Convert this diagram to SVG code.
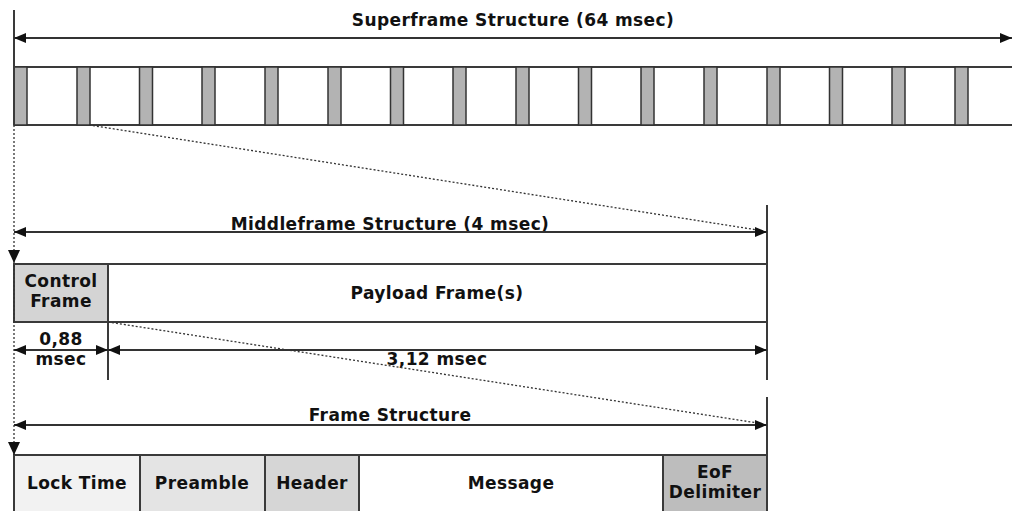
<svg xmlns="http://www.w3.org/2000/svg" width="1012" height="511" viewBox="0 0 1012 511">
<defs>
<marker id="ah" viewBox="0 0 12 10" refX="12" refY="5" markerWidth="12" markerHeight="10" markerUnits="userSpaceOnUse" orient="auto-start-reverse">
<path d="M0,0 L12,5 L0,10 Z" fill="#111"/>
</marker>
<style>
.t{font-family:"DejaVu Sans",Verdana,sans-serif;font-weight:bold;font-size:17px;letter-spacing:0.4px;fill:#111;text-anchor:middle}
.ln{stroke:#3a3a3a;stroke-width:2;fill:none}
.dim{stroke:#333;stroke-width:2;fill:none;marker-start:url(#ah);marker-end:url(#ah)}
.dot{stroke:#333;stroke-width:1.3;stroke-dasharray:2,2;fill:none}
.slot{fill:#b3b3b3;stroke:#333;stroke-width:1.5}
.cell{stroke:#3a3a3a;stroke-width:2}
</style>
</defs>
<rect width="1012" height="511" fill="#fff"/>

<g id="superframe">
<text class="t" x="513" y="26">Superframe Structure (64 msec)</text>
<line class="ln" x1="14" y1="67" x2="1012" y2="67"/>
<line class="ln" x1="14" y1="125" x2="1012" y2="125"/>
<g id="slots">
<rect class="slot" x="14" y="67" width="13" height="58"/>
<rect class="slot" x="77" y="67" width="13" height="58"/>
<rect class="slot" x="139.5" y="67" width="13" height="58"/>
<rect class="slot" x="202" y="67" width="13" height="58"/>
<rect class="slot" x="265" y="67" width="13" height="58"/>
<rect class="slot" x="328" y="67" width="13" height="58"/>
<rect class="slot" x="390.5" y="67" width="13" height="58"/>
<rect class="slot" x="453" y="67" width="13" height="58"/>
<rect class="slot" x="516" y="67" width="13" height="58"/>
<rect class="slot" x="578.5" y="67" width="13" height="58"/>
<rect class="slot" x="641" y="67" width="13" height="58"/>
<rect class="slot" x="704" y="67" width="13" height="58"/>
<rect class="slot" x="767" y="67" width="13" height="58"/>
<rect class="slot" x="829.5" y="67" width="13" height="58"/>
<rect class="slot" x="892" y="67" width="13" height="58"/>
<rect class="slot" x="955" y="67" width="13" height="58"/>
</g>
</g>

<g id="middleframe">
<text class="t" x="390" y="230">Middleframe Structure (4 msec)</text>
<rect x="14" y="264" width="94" height="58" fill="#d4d4d4" class="cell"/>
<rect x="108" y="264" width="659" height="58" fill="#fff" class="cell"/>
<text class="t" x="61" y="287">Control</text>
<text class="t" x="61" y="307">Frame</text>
<text class="t" x="437" y="299">Payload Frame(s)</text>
<text class="t" x="61" y="345">0,88</text>
<text class="t" x="61" y="365">msec</text>
<text class="t" x="437" y="365">3,12 msec</text>
</g>

<g id="frame">
<text class="t" x="390" y="421">Frame Structure</text>
<rect x="14" y="455" width="126" height="60" fill="#f2f2f2" class="cell"/>
<rect x="140" y="455" width="125" height="60" fill="#e4e4e4" class="cell"/>
<rect x="265" y="455" width="94" height="60" fill="#d6d6d6" class="cell"/>
<rect x="359" y="455" width="304" height="60" fill="#fff" class="cell"/>
<rect x="663" y="455" width="104" height="60" fill="#bdbdbd" class="cell"/>
<text class="t" x="77" y="489">Lock Time</text>
<text class="t" x="202" y="489">Preamble</text>
<text class="t" x="312" y="489">Header</text>
<text class="t" x="511" y="489">Message</text>
<text class="t" x="715" y="478">EoF</text>
<text class="t" x="715" y="498">Delimiter</text>
</g>

<g id="connectors">
<line class="ln" x1="14" y1="10" x2="14" y2="125"/>
<line class="dim" x1="14" y1="38" x2="1012" y2="38"/>
<line class="dot" x1="14" y1="125" x2="14" y2="455"/>
<path d="M8,250 L20,250 L14,263 Z" fill="#111"/>
<path d="M8,442 L20,442 L14,455 Z" fill="#111"/>
<line class="dot" x1="89" y1="125" x2="764" y2="231"/>
<line class="ln" x1="767" y1="205" x2="767" y2="322"/>
<line class="dim" x1="14" y1="232" x2="767" y2="232"/>
<line class="ln" x1="108" y1="322" x2="108" y2="380"/>
<line class="ln" x1="767" y1="322" x2="767" y2="380"/>
<line class="dim" x1="14" y1="350" x2="108" y2="350"/>
<line class="dim" x1="108" y1="350" x2="767" y2="350"/>
<line class="dot" x1="108" y1="322" x2="764" y2="424"/>
<line class="ln" x1="767" y1="397" x2="767" y2="455"/>
<line class="dim" x1="14" y1="425" x2="767" y2="425"/>
</g>
</svg>
